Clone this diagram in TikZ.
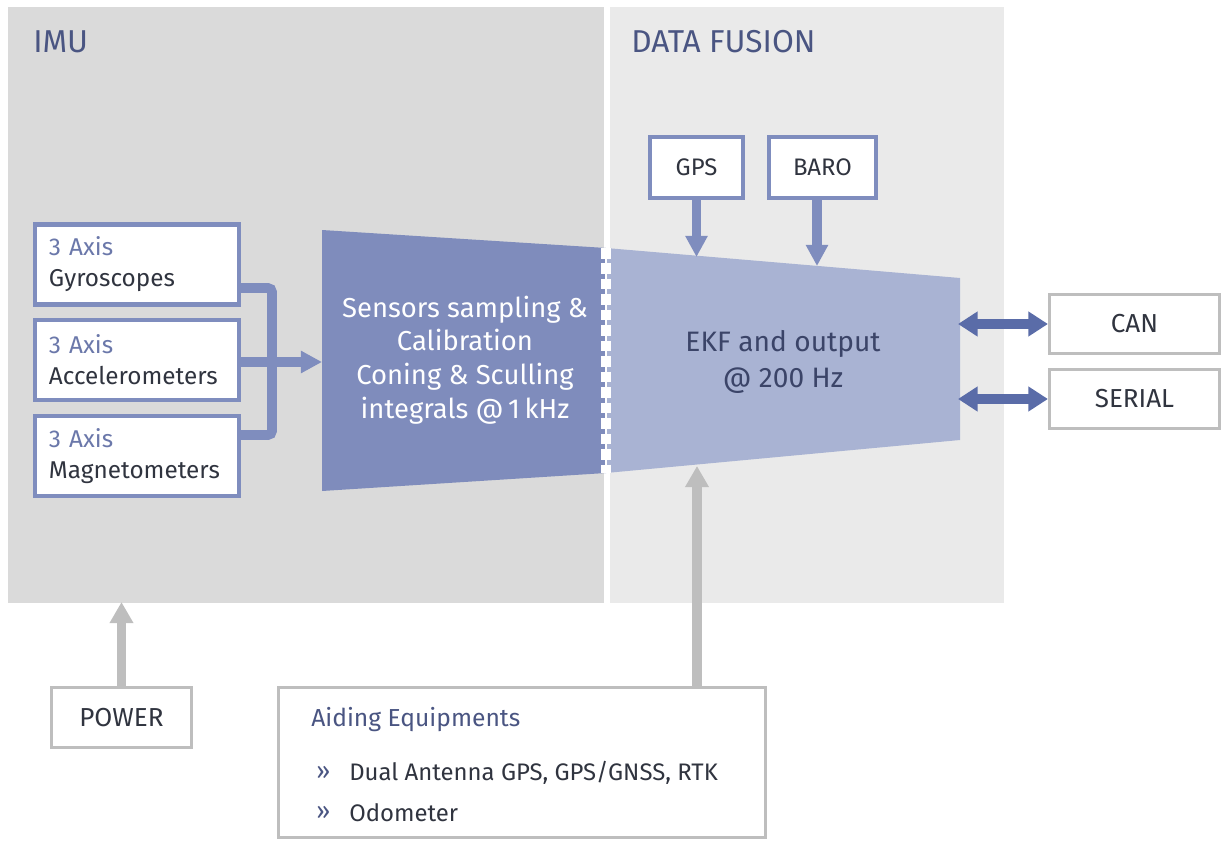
\documentclass[tikz,border=0pt]{standalone}
\usepackage{fontspec}
\setmainfont{Fira Sans}
\usetikzlibrary{arrows.meta}
\definecolor{imugray}{HTML}{DADADA}
\definecolor{fusgray}{HTML}{EAEAEA}
\definecolor{boxblue}{HTML}{7F8DBE}
\definecolor{axisblue}{HTML}{6B78AA}
\definecolor{ioblue}{HTML}{5A6CA8}
\definecolor{sensblue}{HTML}{7F8CBC}
\definecolor{ekfblue}{HTML}{A9B3D3}
\definecolor{linegray}{HTML}{BEBEBE}
\definecolor{titleblue}{HTML}{4A5582}
\definecolor{txt}{HTML}{30343F}

\begin{document}
\begin{tikzpicture}[x=0.025cm,y=-0.025cm,
  title/.style={anchor=west,inner sep=0pt,text=titleblue,font=\fontsize{22.5}{26}\selectfont},
  sensbox/.style={draw=boxblue,line width=3pt,fill=white,align=left,text width=4.4cm,
    inner xsep=0.35cm,minimum width=5.1cm,minimum height=2cm,text=txt,
    font=\fontsize{17.3}{22}\selectfont},
  auxbox/.style={draw=boxblue,line width=3pt,fill=white,text=txt,minimum height=1.525cm,
    font=\fontsize{17}{20}\selectfont},
  outbox/.style={draw=linegray,line width=2.2pt,fill=white,text=txt,minimum width=4.25cm,
    minimum height=1.475cm,font=\fontsize{18.5}{20}\selectfont},
  bus/.style={draw=boxblue,line width=7pt},
  inarrow/.style={bus,-{Triangle[length=15pt,width=15pt]}},
  ioarrow/.style={draw=ioblue,line width=6.5pt,{Triangle[length=14pt,width=17pt]}-{Triangle[length=14pt,width=17pt]}},
  grayarrow/.style={draw=linegray,line width=7pt,-{Triangle[length=15pt,width=16pt]}},
  blocktext/.style={align=center,inner sep=0pt,font=\fontsize{19.5}{24}\selectfont},
  aidtext/.style={anchor=west,inner sep=0pt,font=\fontsize{17.5}{20}\selectfont}]
\useasboundingbox (0,0) rectangle (1224,841);
\fill[imugray] (8,7) rectangle (604,603);
\fill[fusgray] (610,7) rectangle (1004,603);
\node[title] (imutitle) at (33,42) {IMU};
\node[title] (fustitle) at (631,42) {DATA FUSION};

\coordinate (s1) at (322,230);
\coordinate (s2) at (606,248);
\coordinate (s3) at (606,473);
\coordinate (s4) at (322,491);
\coordinate (e2) at (960,278);
\coordinate (e3) at (960,440);
\fill[sensblue] (s1) -- (s2) -- (s3) -- (s4) -- cycle;
\fill[ekfblue] (s2) -- (e2) -- (e3) -- (s3) -- cycle;
\draw[white,line width=2pt] (s2) -- (s3);
\draw[white,line width=6.5pt,dash pattern=on 7.5pt off 3.5pt] (s2) -- (s3);
\node[blocktext,text=white] (sense) at (465,360) {Sensors sampling \&\\Calibration\\Coning \& Sculling\\integrals @\,1\,kHz};
\node[blocktext,font=\fontsize{20}{25}\selectfont,text=titleblue!80!black] (ekf) at (783,362) {EKF and output\\@ 200 Hz};

\node[sensbox] (gyro) at (137,264.5) {{\color{axisblue}3 Axis}\\Gyroscopes};
\node[sensbox] (accel) at (137,360) {{\color{axisblue}3 Axis}\\Accelerometers};
\node[sensbox] (magn) at (137,456) {{\color{axisblue}3 Axis}\\Magnetometers};
\coordinate (bar) at (272,362);
\coordinate (sensin) at (322,362);
\draw[bus,rounded corners=3pt] (gyro.east |- 0,288) -| (bar) |- (magn.east |- 0,435);
\draw[inarrow] (accel.east |- 0,362) -- (sensin);

\node[auxbox,minimum width=2.325cm] (gps) at (696.5,167.5) {GPS};
\node[auxbox,minimum width=2.675cm] (baro) at (822.5,167.5) {BARO};
\coordinate (gpsin) at (696.5,257);
\coordinate (baroin) at (817,266);
\draw[inarrow] (gps.south) -- (gpsin);
\draw[inarrow] (baro.south -| baroin) -- (baroin);

\node[outbox] (can) at (1134.5,324) {CAN};
\node[outbox] (serial) at (1134.5,399) {SERIAL};
\coordinate (canout) at (958,324);
\coordinate (serout) at (958,399);
\draw[ioarrow] (canout) -- (can.west);
\draw[ioarrow] (serout) -- (serial.west);

\node[outbox,minimum width=3.5cm,minimum height=1.5cm] (power) at (121.5,717.5) {POWER};
\coordinate (pwrin) at (121.5,602);
\draw[grayarrow] (power.north) -- (pwrin);

\node[outbox,minimum width=12.175cm,minimum height=3.75cm] (aiding) at (522,762.5) {};
\node[aidtext,text=titleblue] (aidtitle) at (311,720) {Aiding Equipments};
\node[aidtext,text=titleblue] (bullet1) at (316,773) {»};
\node[aidtext,text=txt,font=\fontsize{17}{20}\selectfont] (item1) at (349,773) {Dual Antenna GPS, GPS/GNSS, RTK};
\node[aidtext,text=titleblue] (bullet2) at (316,813) {»};
\node[aidtext,text=txt,font=\fontsize{17}{20}\selectfont] (item2) at (349,813) {Odometer};
\coordinate (aidin) at (697,466);
\draw[grayarrow] (aidin |- aiding.north) -- (aidin);
\end{tikzpicture}
\end{document}
